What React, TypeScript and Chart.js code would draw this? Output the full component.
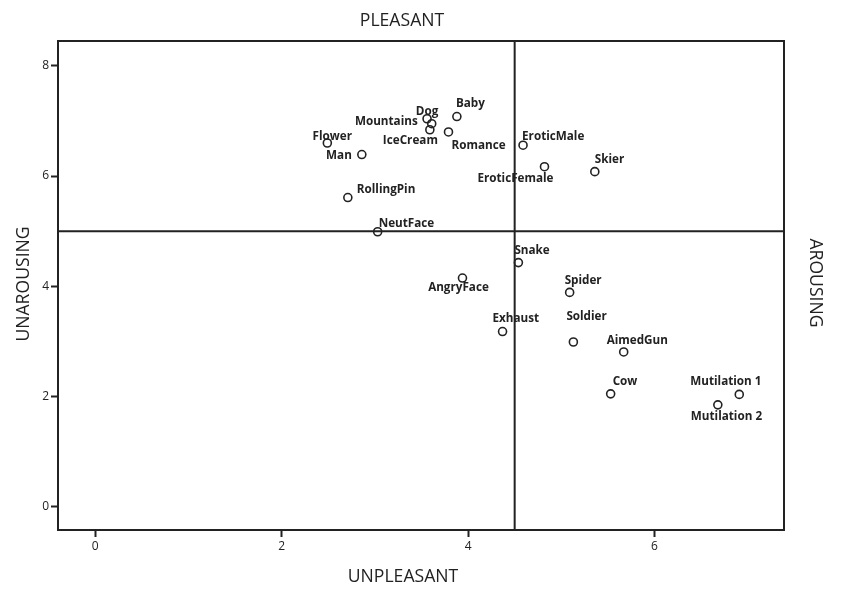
import { useEffect, useRef } from 'react';
import { Chart, registerables } from 'chart.js';

Chart.register(...registerables);

// ---- Data ----
const stimulusNames = [
  'Flower', 'Man', 'RollingPin', 'NeutFace', 'Dog', 'Mountains', 'IceCream', 'Romance', 'Baby',
  'EroticMale', 'EroticFemale', 'Skier', 'Snake', 'AngryFace', 'Spider', 'Exhaust', 'Soldier',
  'AimedGun', 'Cow', 'Mutilation 1', 'Mutilation 2',
];
const xValues = [
  2.49, 2.86, 2.71, 3.03, 3.56, 3.61, 3.59, 3.79, 3.88,
  4.59, 4.82, 5.36, 4.54, 3.94, 5.09, 4.37, 5.13,
  5.67, 5.53, 6.91, 6.68,
];
const yValues = [
  6.60, 6.39, 5.61, 4.99, 7.04, 6.95, 6.84, 6.80, 7.08,
  6.56, 6.17, 6.08, 4.43, 4.15, 3.89, 3.18, 2.99,
  2.81, 2.05, 2.04, 1.85,
];
const xTickValues = [0, 2, 4, 6];
const yTickValues = [0, 2, 4, 6, 8];
const xRange = [-0.4, 7.39];
const yRange = [-0.42, 8.45];
const xDivider = 4.5;
const yDivider = 5;
const titleTop = 'PLEASANT';
const titleBottom = 'UNPLEASANT';
const titleLeft = 'UNAROUSING';
const titleRight = 'AROUSING';

// ---- Label placement (style): [align, dx, dy] ----
const labelPlacement: Record<string, [CanvasTextAlign, number, number]> = {
  'Flower': ['center', 5, -6],
  'Man': ['right', -10, 1],
  'RollingPin': ['left', 9, -8],
  'NeutFace': ['left', 1, -8],
  'Dog': ['center', 0, -7],
  'Mountains': ['right', -14, -2],
  'IceCream': ['right', 8, 11],
  'Romance': ['left', 3, 14],
  'Baby': ['left', -1, -13],
  'EroticMale': ['left', -1, -9],
  'EroticFemale': ['right', 9, 12],
  'Skier': ['left', 0, -12],
  'Snake': ['left', -4, -12],
  'AngryFace': ['center', -4, 10],
  'Spider': ['left', -5, -12],
  'Exhaust': ['left', -10, -13],
  'Soldier': ['left', -7, -25],
  'AimedGun': ['left', -17, -11],
  'Cow': ['left', 2, -12],
  'Mutilation 1': ['left', -49, -13],
  'Mutilation 2': ['left', -27, 12],
};

const INK = '#222';

const quadrantPlugin = {
  id: 'quadrant',
  beforeDatasetsDraw(chart: any) {
    const { ctx, chartArea: a, scales } = chart;
    const xp = scales.x.getPixelForValue(xDivider);
    const yp = scales.y.getPixelForValue(yDivider);
    ctx.save();
    ctx.strokeStyle = INK;
    ctx.lineWidth = 2;
    ctx.beginPath();
    ctx.moveTo(xp, a.top);
    ctx.lineTo(xp, a.bottom);
    ctx.moveTo(a.left, yp);
    ctx.lineTo(a.right, yp);
    ctx.stroke();
    ctx.restore();
  },
  afterDatasetsDraw(chart: any) {
    const { ctx } = chart;
    const meta = chart.getDatasetMeta(0);
    ctx.save();
    ctx.font = 'bold 11.7px "Open Sans", "DejaVu Sans", sans-serif';
    ctx.fillStyle = INK;
    ctx.textBaseline = 'middle';
    meta.data.forEach((el: any, i: number) => {
      const name = stimulusNames[i];
      const [align, dx, dy] = labelPlacement[name] || ['left', 6, -10];
      ctx.textAlign = align;
      ctx.fillText(name, el.x + dx, el.y + dy);
    });
    ctx.restore();
  },
  afterDraw(chart: any) {
    const { ctx, chartArea: a } = chart;
    ctx.save();
    ctx.strokeStyle = INK;
    ctx.lineWidth = 2;
    ctx.strokeRect(a.left, a.top, a.right - a.left, a.bottom - a.top);
    ctx.fillStyle = INK;
    ctx.font = '17.6px "Open Sans", "DejaVu Sans", sans-serif';
    ctx.textAlign = 'center';
    ctx.textBaseline = 'middle';
    ctx.fillText(titleTop, 402, 21);
    ctx.fillText(titleBottom, 403, 577);
    ctx.save();
    ctx.translate(24, 284);
    ctx.rotate(-Math.PI / 2);
    ctx.fillText(titleLeft, 0, 0);
    ctx.restore();
    ctx.save();
    ctx.translate(815, 283);
    ctx.rotate(Math.PI / 2);
    ctx.fillText(titleRight, 0, 0);
    ctx.restore();
    ctx.restore();
  },
};

export default function App() {
  const canvasRef = useRef<HTMLCanvasElement | null>(null);

  useEffect(() => {
    const canvas = canvasRef.current;
    if (!canvas) return;
    const points = xValues.map((x, i) => ({ x, y: yValues[i] }));
    const tickFont = { family: '"Open Sans", "DejaVu Sans", sans-serif', size: 12 };
    const chart = new Chart(canvas, {
      type: 'scatter',
      data: {
        datasets: [
          {
            label: 'Stimuli',
            data: points,
            pointRadius: 4,
            pointHoverRadius: 4,
            pointBorderWidth: 1.6,
            pointBorderColor: INK,
            pointBackgroundColor: 'rgba(0,0,0,0)',
          },
        ],
      },
      options: {
        responsive: false,
        animation: false,
        events: [],
        layout: { padding: { top: 41, right: 57, left: 0, bottom: 0 } },
        plugins: { legend: { display: false }, tooltip: { enabled: false } },
        scales: {
          x: {
            type: 'linear',
            min: xRange[0],
            max: xRange[1],
            afterBuildTicks: (s: any) => { s.ticks = xTickValues.map((v) => ({ value: v })); },
            afterFit: (s: any) => { s.height = 67; },
            ticks: { font: tickFont, color: INK, padding: 2, maxRotation: 0 },
            grid: { drawOnChartArea: false, drawTicks: true, tickLength: 7, tickColor: INK, tickWidth: 2 },
            border: { display: true, color: INK, width: 2 },
          },
          y: {
            type: 'linear',
            min: yRange[0],
            max: yRange[1],
            afterBuildTicks: (s: any) => { s.ticks = yTickValues.map((v) => ({ value: v })); },
            afterFit: (s: any) => { s.width = 58; },
            ticks: { font: tickFont, color: INK, padding: 2 },
            grid: { drawOnChartArea: false, drawTicks: true, tickLength: 7, tickColor: INK, tickWidth: 2 },
            border: { display: true, color: INK, width: 2 },
          },
        },
      },
      plugins: [quadrantPlugin],
    });
    return () => chart.destroy();
  }, []);

  return (
    <div style={{ position: 'fixed', left: 0, top: 0, width: 841, height: 597, background: '#fff' }}>
      <canvas ref={canvasRef} width={841} height={597} />
    </div>
  );
}
